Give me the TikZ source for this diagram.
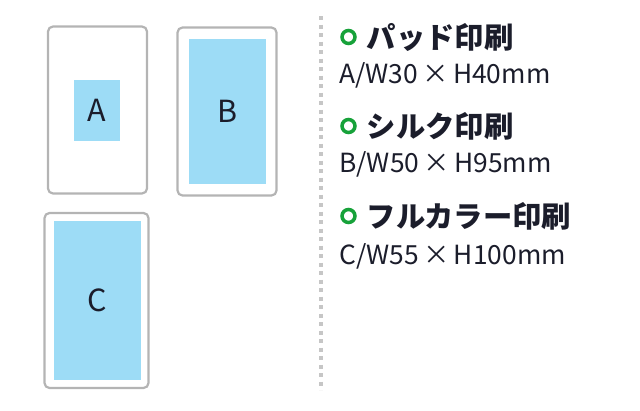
\documentclass[tikz,border=0pt]{standalone}
\usepackage{fontspec}
\setmainfont{Noto Sans CJK JP}
\usepackage{xcolor}
\usepackage{tikz}
\usetikzlibrary{positioning}
\definecolor{printblue}{HTML}{9DDCF6}
\definecolor{cardgray}{HTML}{B4B4B4}
\definecolor{markgreen}{HTML}{17A23A}
\definecolor{inkdark}{HTML}{1B1D2B}
\newcommand{\pxl}{0.03cm}

\begin{document}
\begin{tikzpicture}
  [
    x=\pxl, y=-\pxl,
    Card/.style={draw=cardgray, line width=2.2*\pxl, rounded corners=5*\pxl, fill=white, inner sep=0pt},
    Area/.style={fill=printblue, inner sep=0pt, text=inkdark, font=\fontsize{26pt}{26pt}\selectfont},
    Mark/.style={circle, draw=markgreen, line width=3.5*\pxl, minimum size=13*\pxl, inner sep=0pt},
    Head/.style={anchor=west, text=inkdark, inner sep=0pt, font=\fontsize{25pt}{25pt}\selectfont\bfseries},
    Spec/.style={anchor=west, text=inkdark, inner sep=0pt, font=\fontsize{22.5pt}{22.5pt}\selectfont}
  ]
  \useasboundingbox (0,0) rectangle (640,410);
  % Cards
  \node[Card, minimum width=99*\pxl, minimum height=167*\pxl] (cardA) at (97.5,110) {};
  \node[Card, minimum width=99*\pxl, minimum height=168*\pxl] (cardB) at (227,111.5) {};
  \node[Card, minimum width=104*\pxl, minimum height=175*\pxl] (cardC) at (96.5,300.5) {};
  % Print areas
  \node[Area, minimum width=46*\pxl, minimum height=61*\pxl] (areaA) at (97,110.5) {A};
  \node[Area, minimum width=77*\pxl, minimum height=145*\pxl] (areaB) at (227.5,111.5) {B};
  \node[Area, minimum width=87*\pxl, minimum height=159*\pxl] (areaC) at (97,300.5) {C};
  % Divider
  \draw[gray!45, line width=4*\pxl, dash pattern=on 4*\pxl off 4.5*\pxl] (321,16) -- (321,390);
  % Legend
  \node[Mark] (markA) at (348.5,37) {};
  \node[Head, right=10*\pxl of markA] (headA) {パッド印刷};
  \node[Spec] (specA) at (339,75) {A/W30\,×\,H40mm};
  \node[Mark] (markB) at (348.5,126) {};
  \node[Head, right=10*\pxl of markB] (headB) {シルク印刷};
  \node[Spec] (specB) at (339,164) {B/W50\,×\,H95mm};
  \node[Mark] (markC) at (348.5,216) {};
  \node[Head, right=10*\pxl of markC] (headC) {フルカラー印刷};
  \node[Spec] (specC) at (339,256) {C/W55\,×\,H100mm};
\end{tikzpicture}
\end{document}
